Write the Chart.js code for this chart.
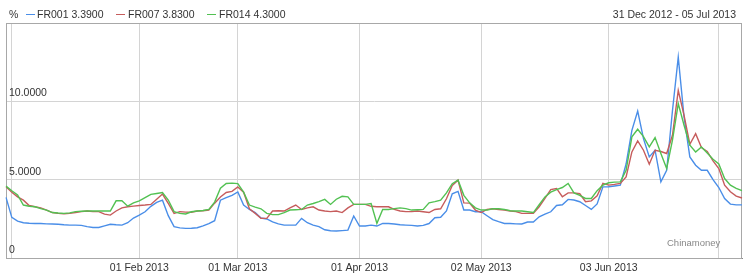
<!DOCTYPE html>
<html>
<head>
<meta charset="utf-8">
<script src="https://cdn.jsdelivr.net/npm/chart.js@4/dist/chart.umd.min.js"></script>
<style>
  body { margin: 0; background: #fff; font-family: "Liberation Sans", Arial, sans-serif; }
  #wrap { position: relative; width: 745px; height: 277px; }
  #chart { position: absolute; left: 0; top: 0; }
  .txt { position: absolute; font-size: 10.5px; color: #333; white-space: nowrap; line-height: 12px; }
  .key { position: absolute; top: 14px; height: 1px; width: 9px; }
  #mark { position: absolute; left: 667px; top: 237px; font-size: 9.5px; color: #888; }
</style>
</head>
<body>
<div id="wrap">
  <canvas id="chart" width="745" height="277"></canvas>
  <div class="txt" style="left:9px;top:8px">%</div>
  <div class="key" style="left:26px;background:#4a8ee8"></div>
  <div class="txt" style="left:37px;top:8px">FR001 3.3900</div>
  <div class="key" style="left:116px;background:#c65c5c"></div>
  <div class="txt" style="left:128px;top:8px">FR007 3.8300</div>
  <div class="key" style="left:207px;background:#52c152"></div>
  <div class="txt" style="left:219px;top:8px">FR014 4.3000</div>
  <div class="txt" style="right:9px;top:8px">31 Dec 2012 - 05 Jul 2013</div>
  <div id="mark">Chinamoney</div>
</div>
<script>
// trading days, 31 Dec 2012 - 05 Jul 2013
const dates = [
  "2012-12-31",
  "2013-01-04","2013-01-05","2013-01-06","2013-01-07","2013-01-08","2013-01-09","2013-01-10","2013-01-11",
  "2013-01-14","2013-01-15","2013-01-16","2013-01-17","2013-01-18","2013-01-21","2013-01-22","2013-01-23",
  "2013-01-24","2013-01-25","2013-01-28","2013-01-29","2013-01-30","2013-01-31",
  "2013-02-01","2013-02-04","2013-02-05","2013-02-06","2013-02-07","2013-02-08","2013-02-16","2013-02-17",
  "2013-02-18","2013-02-19","2013-02-20","2013-02-21","2013-02-22","2013-02-25","2013-02-26","2013-02-27","2013-02-28",
  "2013-03-01","2013-03-04","2013-03-05","2013-03-06","2013-03-07","2013-03-08","2013-03-11","2013-03-12",
  "2013-03-13","2013-03-14","2013-03-15","2013-03-18","2013-03-19","2013-03-20","2013-03-21","2013-03-22",
  "2013-03-25","2013-03-26","2013-03-27","2013-03-28","2013-03-29",
  "2013-04-01","2013-04-02","2013-04-03","2013-04-07","2013-04-08","2013-04-09","2013-04-10","2013-04-11",
  "2013-04-12","2013-04-15","2013-04-16","2013-04-17","2013-04-18","2013-04-19","2013-04-22","2013-04-23",
  "2013-04-24","2013-04-25","2013-04-26","2013-04-27","2013-04-28",
  "2013-05-02","2013-05-03","2013-05-06","2013-05-07","2013-05-08","2013-05-09","2013-05-10","2013-05-13",
  "2013-05-14","2013-05-15","2013-05-16","2013-05-17","2013-05-20","2013-05-21","2013-05-22","2013-05-23",
  "2013-05-24","2013-05-27","2013-05-28","2013-05-29","2013-05-30","2013-05-31",
  "2013-06-03","2013-06-04","2013-06-05","2013-06-06","2013-06-07","2013-06-08","2013-06-09","2013-06-13",
  "2013-06-14","2013-06-17","2013-06-18","2013-06-19","2013-06-20","2013-06-21","2013-06-24","2013-06-25",
  "2013-06-26","2013-06-27","2013-06-28",
  "2013-07-01","2013-07-02","2013-07-03","2013-07-04","2013-07-05"
];

const fr001 = [
  3.87, 2.59, 2.35, 2.25, 2.22, 2.20, 2.20, 2.18, 2.17, 2.15, 2.12, 2.10, 2.10, 2.08, 2.00, 1.95,
  1.95, 2.05, 2.15, 2.12, 2.10, 2.25, 2.55, 2.74, 2.95, 3.30, 3.55, 3.69, 2.70, 2.00, 1.92, 1.89,
  1.90, 1.93, 2.05, 2.20, 2.38, 3.69, 3.85, 4.00, 4.22, 3.38, 3.10, 2.90, 2.55, 2.49, 2.30, 2.18,
  2.10, 2.10, 2.10, 2.53, 2.25, 2.10, 2.00, 1.80, 1.74, 1.72, 1.75, 1.78, 2.68, 2.04, 2.04, 2.10,
  2.04, 2.21, 2.20, 2.17, 2.12, 2.10, 2.08, 2.04, 2.08, 2.20, 2.57, 2.60, 3.00, 4.10, 4.25, 3.06,
  3.06, 2.95, 2.96, 2.70, 2.45, 2.32, 2.20, 2.20, 2.18, 2.17, 2.30, 2.30, 2.63, 2.80, 2.95, 3.35,
  3.40, 3.74, 3.70, 3.59, 3.35, 3.10, 3.45, 4.54, 4.55, 4.60, 4.65, 6.00, 8.15, 9.38, 7.62, 6.45,
  6.88, 4.86, 5.60, 9.40, 12.82, 9.00, 6.45, 5.92, 5.60, 5.60, 5.00, 4.50, 3.80, 3.44, 3.39, 3.39
];

const fr007 = [
  4.55, 4.20, 3.90, 3.69, 3.35, 3.27, 3.20, 3.06, 2.90, 2.85, 2.82, 2.85, 2.90, 2.96, 3.00, 2.96,
  2.96, 2.80, 2.74, 3.00, 3.20, 3.27, 3.31, 3.35, 3.38, 3.42, 3.75, 4.08, 3.48, 2.85, 2.96, 2.93,
  2.92, 3.00, 3.02, 3.06, 3.50, 3.90, 4.18, 4.25, 4.54, 4.20, 3.14, 2.85, 2.53, 2.53, 3.00, 3.02,
  3.00, 3.20, 3.38, 3.10, 3.20, 3.27, 3.06, 3.00, 2.96, 3.00, 2.90, 3.20, 3.42, 3.42, 3.42, 3.30,
  3.27, 3.27, 3.27, 3.10, 3.00, 2.96, 2.96, 3.00, 2.95, 2.90, 3.10, 3.14, 3.78, 4.63, 4.97, 3.52,
  3.50, 3.06, 2.90, 3.10, 3.14, 3.10, 3.06, 3.00, 2.96, 2.85, 2.85, 2.85, 3.27, 3.80, 4.37, 4.44,
  3.91, 4.16, 4.16, 4.10, 3.59, 3.65, 3.97, 4.76, 4.65, 4.70, 4.76, 5.18, 6.77, 7.47, 6.88, 5.99,
  6.88, 6.80, 6.67, 7.83, 10.70, 9.10, 7.26, 7.94, 7.05, 6.80, 6.20, 5.71, 4.65, 4.23, 3.95, 3.83
];

const fr014 = [
  4.59, 4.29, 4.03, 3.38, 3.30, 3.27, 3.15, 3.06, 2.90, 2.87, 2.85, 2.88, 2.96, 2.98, 3.00, 3.00,
  3.00, 3.00, 3.00, 3.65, 3.65, 3.31, 3.52, 3.65, 3.85, 4.06, 4.12, 4.18, 3.70, 2.96, 2.85, 2.81,
  2.95, 3.00, 3.03, 3.10, 3.57, 4.45, 4.76, 4.78, 4.75, 4.20, 3.38, 3.25, 3.14, 2.85, 2.77, 2.77,
  2.90, 3.06, 3.08, 3.10, 3.38, 3.48, 3.60, 3.74, 3.42, 3.75, 3.94, 3.90, 3.42, 3.42, 3.42, 3.48,
  2.21, 3.10, 3.10, 3.15, 3.20, 3.15, 3.06, 3.08, 3.10, 3.52, 3.60, 3.69, 4.16, 4.74, 4.97, 4.00,
  3.52, 3.20, 3.06, 3.06, 3.14, 3.14, 3.10, 3.02, 3.00, 3.00, 2.95, 2.90, 3.40, 3.90, 4.20, 4.37,
  4.50, 4.76, 4.16, 4.00, 3.80, 3.80, 4.30, 4.65, 4.80, 4.84, 4.86, 5.60, 7.73, 8.22, 7.75, 7.09,
  7.69, 6.67, 5.71, 7.52, 9.85, 8.47, 7.20, 6.77, 7.09, 6.70, 6.30, 6.00, 5.07, 4.65, 4.45, 4.30
];

// first trading day of each month -> grid line + label
const tickIdx = [1, 23, 40, 61, 82, 104, 123];
const tickLabels = ["", "01 Feb 2013", "01 Mar 2013", "01 Apr 2013", "02 May 2013", "03 Jun 2013", ""];

const frame = {
  id: "frame",
  beforeDatasetsDraw(chart) {
    const a = chart.chartArea, ctx = chart.ctx;
    ctx.save();
    ctx.strokeStyle = "#a8a8a8";
    ctx.lineWidth = 1;
    ctx.strokeRect(a.left + 0.5, a.top + 0.5, a.right - a.left - 1, a.bottom - a.top);
    ctx.restore();
  }
};

const line = (label, data, color) => ({
  label, data,
  borderColor: color,
  borderWidth: 1.4,
  pointRadius: 0,
  tension: 0,
  fill: false
});

new Chart(document.getElementById("chart"), {
  type: "line",
  data: {
    labels: dates,
    datasets: [
      line("FR014", fr014, "#52c152"),
      line("FR007", fr007, "#c65c5c"),
      line("FR001", fr001, "#4a8ee8")
    ]
  },
  options: {
    responsive: false,
    animation: false,
    layout: { padding: { left: 6, right: 3, top: 23, bottom: 0 } },
    plugins: { legend: { display: false }, tooltip: { enabled: false } },
    scales: {
      x: {
        type: "category",
        offset: false,
        afterBuildTicks: s => { s.ticks = tickIdx.map(v => ({ value: v })); },
        afterFit: s => { s.height = 19; },
        grid: { color: "#d4d4d4", drawTicks: false, offset: false },
        border: { color: "#888" },
        ticks: {
          autoSkip: false,
          maxRotation: 0,
          padding: 4,
          color: "#333",
          font: { family: "Liberation Sans", size: 10.5 },
          callback: (v, i) => tickLabels[i]
        }
      },
      y: {
        min: 0,
        max: 15,
        afterFit: s => { s.width = 0; },
        grid: { color: "#d4d4d4", drawTicks: false },
        border: { color: "#888" },
        ticks: {
          stepSize: 5,
          mirror: true,
          padding: 3,
          labelOffset: -8,
          color: "#333",
          font: { family: "Liberation Sans", size: 10.5 },
          callback: v => v === 0 ? "0" : (v >= 15 ? "" : v.toFixed(4))
        }
      }
    }
  },
  plugins: [frame]
});
</script>
</body>
</html>
